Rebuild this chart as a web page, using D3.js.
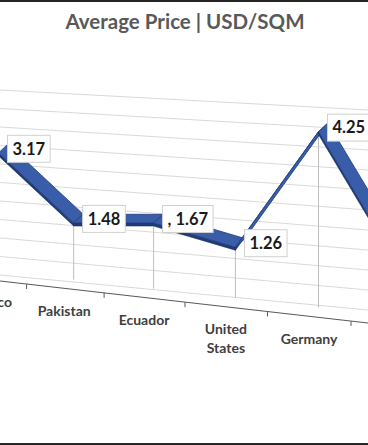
<!DOCTYPE html>
<html>
<head>
<meta charset="utf-8">
<script src="https://cdn.jsdelivr.net/npm/d3@7"></script>
<style>
  body { margin: 0; background: #fff; }
  svg { display: block; }
  text { font-family: Lato, "Open Sans", sans-serif; }
</style>
</head>
<body>
<div id="chart"></div>
<script>
// data (last category is cut off at the right edge)
var categories = ["Mexico", "Pakistan", "Ecuador", "United States", "Germany", ""];
var prices = [3.17, 1.48, 1.67, 1.26, 4.25, 1.06];
var valueLabels = ["3.17", "1.48", ", 1.67", "1.26", "4.25", "1.06"];
var gridValues = [0, 0.5, 1, 1.5, 2, 2.5, 3, 3.5, 4, 4.5, 5];

var svgWidth = 368;
var svgHeight = 445;

var svg = d3.select("#chart")
  .append("svg")
  .attr("width", svgWidth)
  .attr("height", svgHeight);

// border of the cropped chart area
svg.append("rect").attr("x", 0).attr("y", 0).attr("width", svgWidth).attr("height", 2).attr("fill", "#262626");
svg.append("rect").attr("x", 0).attr("y", 443).attr("width", svgWidth).attr("height", 2).attr("fill", "#262626");

// title
svg.append("text")
  .attr("x", 185)
  .attr("y", 29)
  .attr("text-anchor", "middle")
  .style("font-size", "20.5px")
  .style("font-weight", "bold")
  .attr("fill", "#595959")
  .text("Average Price | USD/SQM");

// scales for the 3D look
var xScale = d3.scalePow().exponent(1.045).domain([0, 4]).range([-11, 309]);   // category -> front edge x
var floorY = d3.scaleLinear().domain([0, 368]).range([281, 323]);             // front edge of floor
var unitScale = d3.scaleLinear().domain([0, 4]).range([37.3, 41.4]);          // px per USD (perspective)
var depth = { x: 9.5, y: -8.7 };

function pt(i, v, layer) {
  var x = xScale(i);
  return [x + layer * depth.x, floorY(x) + layer * depth.y - v * unitScale(i)];
}

// back wall gridlines
var gridLeft = d3.scaleLinear().domain([0, 5]).range([275, 90]);
var gridRight = d3.scaleLinear().domain([0, 5]).range([310, 110]);

svg.append("g").selectAll("line")
  .data(gridValues)
  .enter()
  .append("line")
  .attr("x1", 0)
  .attr("y1", d => gridLeft(d))
  .attr("x2", svgWidth)
  .attr("y2", d => gridRight(d))
  .attr("stroke", "#D9D9D9")
  .attr("stroke-width", 1);

// front axis line + ticks between categories
svg.append("line")
  .attr("x1", 0)
  .attr("y1", floorY(0))
  .attr("x2", svgWidth)
  .attr("y2", floorY(svgWidth))
  .attr("stroke", "#595959")
  .attr("stroke-width", 1.2);

var tickX = d3.range(categories.length - 1).map(i => (xScale(i) + xScale(i + 1)) / 2);
svg.append("g").selectAll("line")
  .data(tickX)
  .enter()
  .append("line")
  .attr("x1", d => d)
  .attr("x2", d => d)
  .attr("y1", d => floorY(d))
  .attr("y2", d => floorY(d) + 5)
  .attr("stroke", "#595959")
  .attr("stroke-width", 1);

// drop lines
svg.append("g").selectAll("line")
  .data(prices)
  .enter()
  .append("line")
  .attr("x1", (d, i) => pt(i, d, 1)[0])
  .attr("y1", (d, i) => pt(i, d, 1)[1])
  .attr("x2", (d, i) => pt(i, 0, 1)[0])
  .attr("y2", (d, i) => pt(i, 0, 1)[1])
  .attr("stroke", "#BFBFBF")
  .attr("stroke-width", 1);

// ribbon
var segs = d3.range(prices.length - 1);
var ribbon = svg.append("g");
var thick = 3;

segs.forEach(function (i) {
  var a = pt(i, prices[i], 1);
  var b = pt(i + 1, prices[i + 1], 1);
  var a2 = pt(i, prices[i], 2);
  var b2 = pt(i + 1, prices[i + 1], 2);

  ribbon.append("path")
    .attr("d", d3.line()([a, b, [b[0], b[1] + thick], [a[0], a[1] + thick]]) + "Z")
    .attr("fill", "#1F3B78")
    .attr("stroke", "#172E5E")
    .attr("stroke-width", 0.6);

  ribbon.append("path")
    .attr("d", d3.line()([a, b, b2, a2]) + "Z")
    .attr("fill", "#3A5DA9")
    .attr("stroke", "#203F7C")
    .attr("stroke-width", 0.8)
    .attr("stroke-linejoin", "round");
});

// category labels
var catG = svg.append("g");
categories.forEach(function (c, i) {
  var x = xScale(i);
  if (!c || x > svgWidth) return;
  var t = catG.append("text")
    .attr("x", x)
    .attr("y", floorY(x) + 27.5)
    .attr("text-anchor", "middle")
    .style("font-size", "14px")
    .style("font-weight", "bold")
    .attr("fill", "#404040");
  var words = c.length > 10 ? c.split(" ") : [c];
  words.forEach(function (w, k) {
    t.append("tspan")
      .attr("x", x)
      .attr("dy", k === 0 ? 0 : 19)
      .text(w);
  });
});

// value labels (callout boxes)
var labG = svg.append("g");
prices.forEach(function (v, i) {
  var p = pt(i, v, 1);
  if (p[0] + 9 > svgWidth) return;
  var g = labG.append("g");
  var box = g.append("rect");
  var t = g.append("text")
    .attr("x", p[0] + 9 + 5)
    .attr("y", p[1] - 4 + 5.8)
    .style("font-size", "16.5px")
    .style("font-weight", "bold")
    .attr("fill", "#1a1a1a")
    .text(valueLabels[i]);
  var w = t.node().getComputedTextLength();
  box.attr("x", p[0] + 9)
    .attr("y", p[1] - 4 - 13.5)
    .attr("width", w + 10)
    .attr("height", 27)
    .attr("fill", "#fff")
    .attr("stroke", "#D0D0D0")
    .attr("stroke-width", 1);
});
</script>
</body>
</html>
